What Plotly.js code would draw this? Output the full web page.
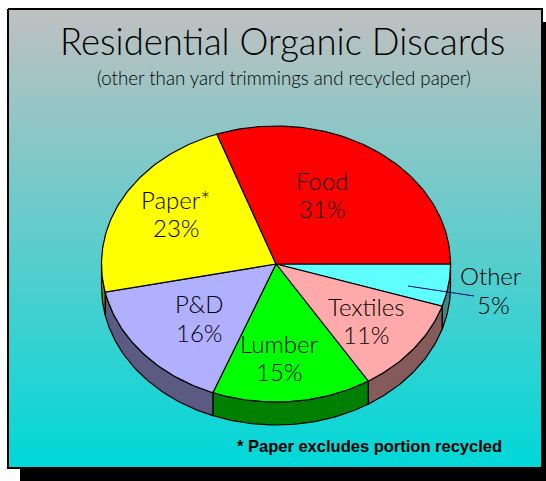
<!DOCTYPE html>
<html><head><meta charset="utf-8">
<script src="https://cdn.plot.ly/plotly-3.0.1.min.js"></script>
<style>html,body{margin:0;padding:0;background:#fff;overflow:hidden}#c{width:546px;height:481px}</style>
</head><body><div id="c"></div><script>
const categories = ['Other','Textiles','Lumber','P&D','Paper*','Food'];
const percentLabels = [5,11,15,16,23,31];
const sliceShares = [5,11.3,14.9,16,23,30.8];
const sliceColors = ['#60ffff','#ffaaaa','#00ff00','#b0b0ff','#ffff00','#ff0000'];
const wallColors = ['#408484','#855a5a','#008000','#5a5a82','#808000','#800000'];
const labelX = [491,366,279,199,176,322];
const labelY = [275,306,343,303,199,180];
const valueX = [493,366,279,199,176,322];
const valueY = [304,334,371,332,227,208];
const titleText = 'Residential Organic Discards';
const subtitleText = '(other than yard trimmings and recycled paper)';
const noteText = '* Paper excludes portion recycled';

const cx=276, cy=264, rx=174.5, ry=138, depth=23;
const total = sliceShares.reduce((a,b)=>a+b,0);
const pt=(deg,dy=0)=>[cx+rx*Math.cos(deg*Math.PI/180), cy+ry*Math.sin(deg*Math.PI/180)+dy];
function arc(a,b,dy=0){const o=[];const n=Math.max(2,Math.ceil(Math.abs(b-a)));for(let i=0;i<=n;i++)o.push(pt(a+(b-a)*i/n,dy));return o;}

const traces=[];
traces.push({type:'scatter',mode:'lines',x:[8,542,542,8,8],y:[9,9,468,468,9],fill:'toself',
  line:{color:'#000',width:2},
  fillgradient:{type:'vertical',colorscale:[[0,'#00d8d8'],[1,'#c0c0c0']]},hoverinfo:'skip',showlegend:false});
let start=0;
const walls=[],tops=[];
sliceShares.forEach((v,i)=>{
  const end=start+v/total*360;
  if(start<180){
    const e=Math.min(end,180);
    const p=arc(start,e).concat(arc(e,start,depth));p.push(p[0]);
    walls.push({type:'scatter',mode:'lines',x:p.map(q=>q[0]),y:p.map(q=>q[1]),fill:'toself',fillcolor:wallColors[i],
      line:{color:'#000',width:1.2},hoverinfo:'skip',showlegend:false,name:categories[i]+' side'});
  }
  const p=[[cx,cy]].concat(arc(start,end));p.push([cx,cy]);
  tops.push({type:'scatter',mode:'lines',x:p.map(q=>q[0]),y:p.map(q=>q[1]),fill:'toself',fillcolor:sliceColors[i],
    line:{color:'#000',width:1.2},hoverinfo:'skip',showlegend:false,name:categories[i]});
  start=end;
});
traces.push(...walls,...tops);

const F='Lato, "Noto Sans", sans-serif';
const ann=(x,y,text,size,extra={})=>Object.assign({x,y,xref:'x',yref:'y',text,showarrow:false,xanchor:'center',yanchor:'middle',
  font:{family:F,size,color:'#000',weight:300}},extra);
const annotations=[
  ann(282,41,titleText,36.5),
  ann(283.5,78,subtitleText,18.7),
  ann(369.5,446,noteText,16.5,{font:{family:'"Liberation Sans",Arial,sans-serif',size:16.5,color:'#000',weight:700}})
];
categories.forEach((c,i)=>{
  annotations.push(ann(labelX[i],labelY[i],c,24));
  annotations.push(ann(valueX[i],valueY[i],percentLabels[i]+'%',24));
});
const layout={width:546,height:481,margin:{l:0,r:0,t:0,b:0},paper_bgcolor:'#fff',plot_bgcolor:'#fff',showlegend:false,
  xaxis:{range:[0,546],visible:false,fixedrange:true},
  yaxis:{range:[481,0],visible:false,fixedrange:true},
  shapes:[
    {type:'rect',xref:'x',yref:'y',x0:20,x1:546,y0:22,y1:481,fillcolor:'#000',line:{width:0},layer:'below'},
    {type:'line',xref:'x',yref:'y',x0:408,y0:286,x1:474,y1:296,line:{color:'#000080',width:1},layer:'above'}
  ],
  annotations};
Plotly.newPlot('c',traces,layout,{displayModeBar:false,staticPlot:true});
</script></body></html>
